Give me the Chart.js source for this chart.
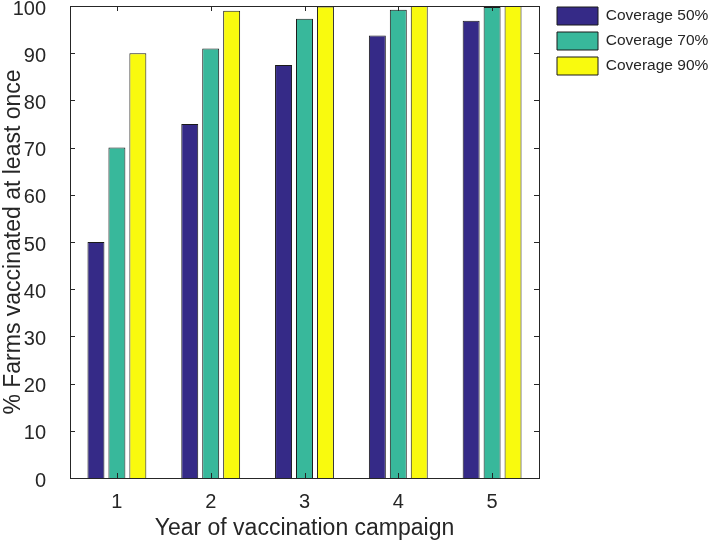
<!DOCTYPE html>
<html>
<head>
<meta charset="utf-8">
<script src="https://cdn.jsdelivr.net/npm/chart.js@4/dist/chart.umd.min.js"></script>
<style>
  body { margin: 0; background: #fff; }
  #wrap { width: 709px; height: 542px; }
</style>
</head>
<body>
<div id="wrap"><canvas id="chart" width="709" height="542"></canvas></div>
<script>
const years = ['1', '2', '3', '4', '5']
const coverage50 = [50, 75, 87.5, 93.75, 96.9]
const coverage70 = [70, 91, 97.3, 99.2, 99.8]
const coverage90 = [90, 99, 99.9, 100, 100]
const seriesNames = ['Coverage 50%', 'Coverage 70%', 'Coverage 90%']
const yTicks = [0, 10, 20, 30, 40, 50, 60, 70, 80, 90, 100]

const ink = '#262626'
const font = "'Liberation Sans', Arial, Helvetica, sans-serif"
const colors = ['#352a87', '#38b89b', '#f9fa0e']

// box round the axes with inward ticks on all four sides
const frame = {
  id: 'frame',
  afterDraw(chart) {
    const {ctx, chartArea: a, scales} = chart
    ctx.save()
    ctx.strokeStyle = ink
    ctx.lineWidth = 1
    ctx.strokeRect(a.left + 0.5, a.top + 0.5, a.right - a.left, a.bottom - a.top)
    ctx.beginPath()
    yTicks.forEach((v) => {
      const y = Math.round(scales.y.getPixelForValue(v)) + 0.5
      ctx.moveTo(a.left, y); ctx.lineTo(a.left + 5, y)
      ctx.moveTo(a.right, y); ctx.lineTo(a.right - 5, y)
    })
    years.forEach((_, i) => {
      const x = Math.round(scales.x.getPixelForValue(i)) + 0.5
      ctx.moveTo(x, a.bottom); ctx.lineTo(x, a.bottom - 5)
      ctx.moveTo(x, a.top); ctx.lineTo(x, a.top + 5)
    })
    ctx.stroke()
    ctx.restore()
  }
}

// no extra room for labels spilling past the axis ends
const noSpill = (s) => {
  s.paddingTop = 0
  s.paddingBottom = 0
  s.paddingLeft = 0
  s.paddingRight = 0
}

const makeSet = (label, data, i) => ({
  label,
  data,
  backgroundColor: colors[i],
  borderColor: '#1a1a1a',
  borderWidth: 1,
  categoryPercentage: 0.67,
  barPercentage: 0.81,
  xAxisID: 'x',
  yAxisID: 'y'
})

new Chart(document.getElementById('chart'), {
  type: 'bar',
  data: {
    labels: years,
    datasets: [
      makeSet(seriesNames[0], coverage50, 0),
      makeSet(seriesNames[1], coverage70, 1),
      makeSet(seriesNames[2], coverage90, 2)
    ]
  },
  options: {
    responsive: false,
    animation: false,
    layout: { padding: 0 },
    plugins: {
      tooltip: { enabled: false },
      legend: {
        position: 'right',
        align: 'start',
        maxWidth: 159,
        labels: {
          boxWidth: 41,
          boxHeight: 18,
          padding: 7,
          color: ink,
          font: { family: font, size: 15.5 }
        }
      }
    },
    scales: {
      x: {
        grid: { display: false },
        border: { display: false },
        ticks: { color: ink, padding: 4, font: { family: font, size: 20 } },
        title: {
          display: true,
          text: 'Year of vaccination campaign',
          color: ink,
          padding: { top: 0, bottom: 0 },
          font: { family: font, size: 23 }
        },
        afterFit: (s) => { s.height = 64; noSpill(s) }
      },
      x2: {
        position: 'top',
        type: 'category',
        labels: years,
        grid: { display: false },
        border: { display: false },
        ticks: { display: false },
        afterFit: (s) => { s.height = 6; noSpill(s) }
      },
      y: {
        min: 0,
        max: 100,
        grid: { display: false },
        border: { display: false },
        ticks: { stepSize: 10, labelOffset: 3, color: ink, padding: 16, font: { family: font, size: 20 } },
        title: {
          display: true,
          text: '% Farms vaccinated at least once',
          color: ink,
          padding: 0,
          font: { family: font, size: 23 }
        },
        afterFit: (s) => { s.width = 70; noSpill(s) }
      },
      y2: {
        position: 'right',
        min: 0,
        max: 100,
        grid: { display: false },
        border: { display: false },
        ticks: { display: false },
        afterFit: (s) => { s.width = 11; noSpill(s) }
      }
    }
  },
  plugins: [frame]
})
</script>
</body>
</html>
